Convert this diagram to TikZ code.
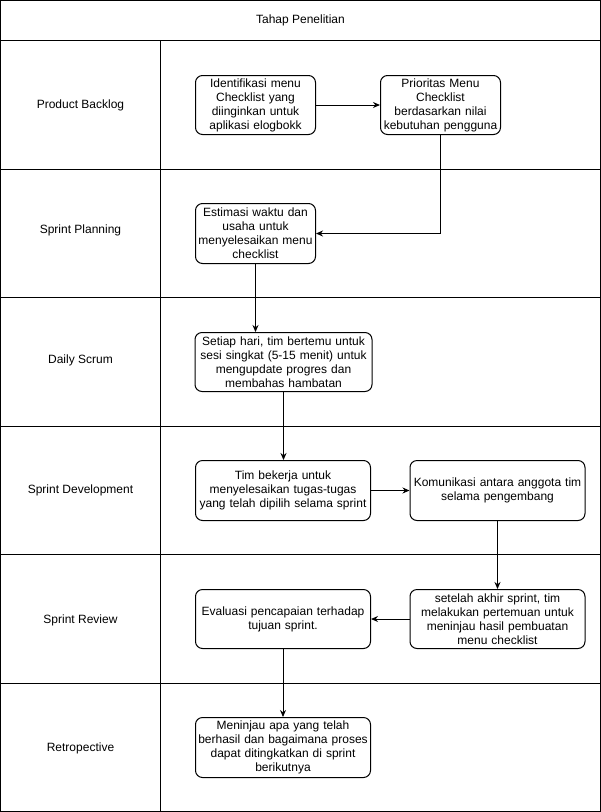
\documentclass[tikz,border=0pt]{standalone}
\usepackage{fontspec}
\setmainfont{Liberation Sans}
\usetikzlibrary{arrows.meta,positioning,calc}
\tikzset{>={Stealth[length=7pt,width=6pt]}}

\begin{document}
\begin{tikzpicture}[x=1pt, y=-1pt, line width=1pt, font=\fontsize{12}{14}\selectfont,
	stepbox/.style={draw, rounded corners=7pt, align=center, inner sep=1pt},
	lanelabel/.style={align=center}]
		\useasboundingbox (0,0) rectangle (601,812);
		% lanes
		\draw (0.5,0.5) rectangle (600.5,811.5);
		\draw (0.5,40.5) -- (600.5,40.5);
		\foreach \y in {169,297,426,554,683}
			\draw (0.5,\y+0.5) -- (600.5,\y+0.5);
		\draw (160.5,40.5) -- (160.5,811.5);
		\node (title) at (300.5,20.5) {Tahap Penelitian};
		
		\node[lanelabel] (backlog)     at (80.5,105.5) {Product Backlog};
		\node[lanelabel] (planning)    at (80.5,230.5) {Sprint Planning};
		\node[lanelabel] (scrum)       at (80.5,360)   {Daily Scrum};
		\node[lanelabel] (development) at (80.5,490.5) {Sprint Development};
		\node[lanelabel] (review)      at (80.5,620)   {Sprint Review};
		\node[lanelabel] (retro)       at (80.5,748)   {Retropective};
		
		% steps
		\node[stepbox,minimum width=120pt,minimum height=59pt,text width=118pt] (identifikasi) at (255.5,105)
			{Identifikasi menu\\Checklist yang\\diinginkan untuk\\aplikasi elogbokk};
		\node[stepbox,minimum width=120pt,minimum height=59pt,text width=118pt] (prioritas) at (440.5,105)
			{Prioritas Menu\\Checklist\\berdasarkan nilai\\kebutuhan pengguna};
		\node[stepbox,minimum width=120pt,minimum height=60pt,text width=118pt] (estimasi) at (255.5,233.5)
			{Estimasi waktu dan\\usaha untuk\\menyelesaikan menu\\checklist};
		\node[stepbox,minimum width=177pt,minimum height=59pt,text width=175pt] (harian) at (283.5,362)
			{Setiap hari, tim bertemu untuk\\sesi singkat (5-15 menit) untuk\\mengupdate progres dan\\membahas hambatan};
		\node[stepbox,minimum width=175pt,minimum height=60pt,text width=173pt] (kerja) at (283,490.5)
			{Tim bekerja untuk\\menyelesaikan tugas-tugas\\yang telah dipilih selama sprint};
		\node[stepbox,minimum width=175pt,minimum height=60pt,text width=173pt] (komunikasi) at (497.5,490.5)
			{Komunikasi antara anggota tim\\selama pengembang};
		\node[stepbox,minimum width=175pt,minimum height=59pt,text width=173pt] (pertemuan) at (497.5,619)
			{setelah akhir sprint, tim\\melakukan pertemuan untuk\\meninjau hasil pembuatan\\menu checklist};
		\node[stepbox,minimum width=175pt,minimum height=59pt,text width=173pt] (evaluasi) at (283,619)
			{Evaluasi pencapaian terhadap\\tujuan sprint.};
		\node[stepbox,minimum width=175pt,minimum height=60pt,text width=173pt] (tinjau) at (283,747.5)
			{Meninjau apa yang telah\\berhasil dan bagaimana proses\\dapat ditingkatkan di sprint\\berikutnya};
		
		% flow
		\draw[->] (identifikasi.east) -- (prioritas.west);
		\draw[->] (prioritas.south) |- (estimasi.east);
		\draw[->] (estimasi.south) -- (estimasi.south |- harian.north);
		\draw[->] (harian.south) -- (harian.south |- kerja.north);
		\draw[->] (kerja.east) -- (komunikasi.west);
		\draw[->] (komunikasi.south) -- (pertemuan.north);
		\draw[->] (pertemuan.west) -- (evaluasi.east);
		\draw[->] (evaluasi.south) -- (tinjau.north);
	\end{tikzpicture}
\end{document}
